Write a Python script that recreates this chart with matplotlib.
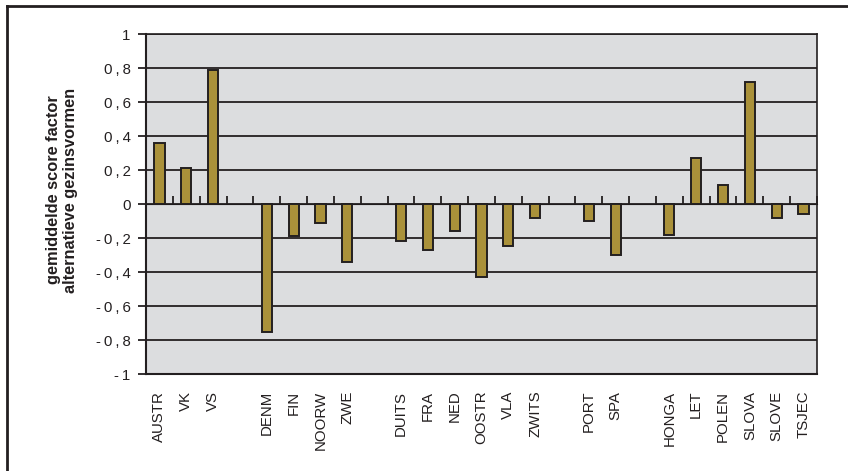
import matplotlib
matplotlib.use("Agg")
import matplotlib.pyplot as plt
from matplotlib.lines import Line2D

# category order as in the source chart; "" marks an empty slot between country groups
countries = ["AUSTR", "VK", "VS", "",
             "DENM", "FIN", "NOORW", "ZWE", "",
             "DUITS", "FRA", "NED", "OOSTR", "VLA", "ZWITS", "",
             "PORT", "SPA", "",
             "HONGA", "LET", "POLEN", "SLOVA", "SLOVE", "TSJEC"]
scores = [0.36, 0.21, 0.79, None,
          -0.75, -0.19, -0.11, -0.34, None,
          -0.22, -0.27, -0.16, -0.43, -0.245, -0.08, None,
          -0.10, -0.30, None,
          -0.18, 0.27, 0.11, 0.72, -0.08, -0.06]
y_ticks = [-1, -0.8, -0.6, -0.4, -0.2, 0, 0.2, 0.4, 0.6, 0.8, 1]
# the source renders these with wide letter spacing
y_labels = ["-1", "-0\u2009,\u20098", "-0\u2009,\u20096", "-0\u2009,\u20094", "-0\u2009,\u20092", "0",
            "0\u2009,\u20092", "0\u2009,\u20094", "0\u2009,\u20096", "0\u2009,\u20098", "1"]
y_labels = [l.replace("-", "-\u2009") for l in y_labels]

plt.rcParams['font.family'] = ['Liberation Sans', 'DejaVu Sans']

W, H = 848, 471
fig = plt.figure(figsize=(W / 100, H / 100), dpi=100)
fig.patch.set_facecolor('white')

# plot area in pixel coords
left, right, top, bottom = 146, 817, 34, 374
ax = fig.add_axes([left / W, 1 - bottom / H, (right - left) / W, (bottom - top) / H])
ax.set_facecolor('#dcdddf')

dark = '#231f20'
xs = [i for i, v in enumerate(scores) if v is not None]
vals = [v for v in scores if v is not None]
ax.bar(xs, vals, width=0.38, color='#aa913a', edgecolor=dark, linewidth=1.4, zorder=3)

ax.set_xlim(-0.5, len(countries) - 0.5)
ax.set_ylim(-1, 1)
ax.set_yticks(y_ticks)
ax.set_yticklabels(y_labels, fontsize=10.8, color=dark)
for y in y_ticks:
    ax.axhline(y, color=dark, linewidth=1.3, zorder=1)
ax.tick_params(axis='y', direction='out', length=6, width=1.3, color=dark, pad=5)

ax.set_xticks(range(len(countries)))
ax.set_xticklabels(countries, rotation=90, fontsize=10.8, color=dark)
ax.tick_params(axis='x', length=0, pad=12)

for s in ax.spines.values():
    s.set_color(dark)
    s.set_linewidth(1.5)
ax.spines['top'].set_linewidth(1.2)
ax.spines['right'].set_linewidth(1.2)

# category axis crossing at zero, with tick marks between categories
sec = ax.secondary_xaxis(0.5)
sec.set_xticks([i - 0.5 for i in range(len(countries) + 1)])
sec.set_xticklabels([])
sec.tick_params(axis='x', direction='out', length=6, width=1.3, color=dark)
sec.spines['bottom'].set_color(dark)
sec.spines['bottom'].set_linewidth(1.3)

fig.text(62 / W, 1 - 190 / H, "gemiddelde score factor\nalternatieve gezinsvormen",
         fontsize=11.8, fontweight='bold', color=dark, rotation=90,
         ha='center', va='center', linespacing=1.1)

# outer frame (only top and left edges visible in the source)
fig.add_artist(Line2D([7 / W, 7 / W], [0, 1 - 6 / H], transform=fig.transFigure,
                      color=dark, linewidth=2))
fig.add_artist(Line2D([7 / W, 1], [1 - 6 / H, 1 - 6 / H], transform=fig.transFigure,
                      color=dark, linewidth=2))

fig.savefig("out.png", dpi=100)
